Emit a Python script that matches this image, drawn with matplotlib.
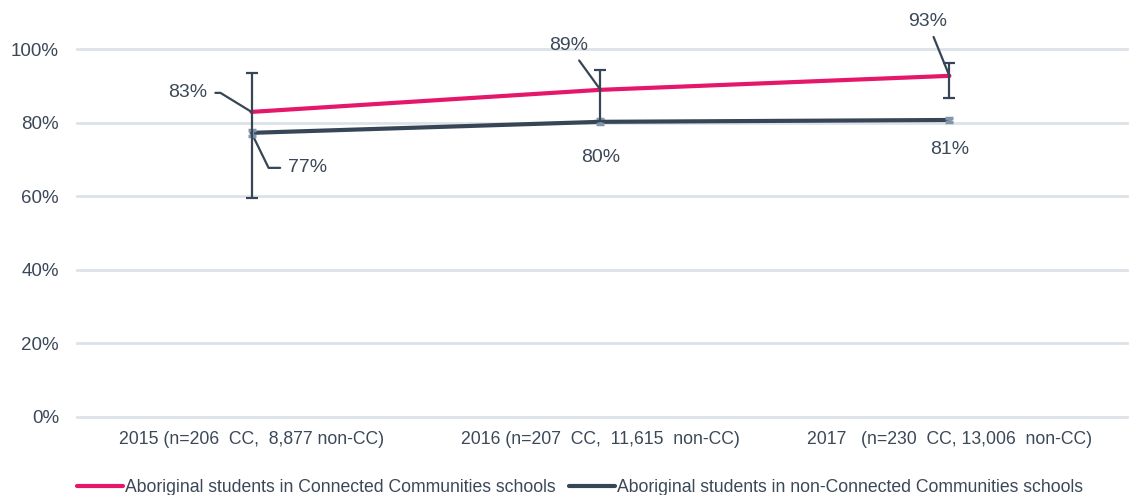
import matplotlib
matplotlib.use('Agg')
import matplotlib.pyplot as plt
import numpy as np

plt.rcParams['font.family'] = ['Liberation Sans', 'DejaVu Sans']

# ---- data ----
years = ['2015 (n=206  CC,  8,877 non-CC)',
         '2016 (n=207  CC,  11,615  non-CC)',
         '2017   (n=230  CC, 13,006  non-CC)']
cc = [82.9, 88.9, 92.7]
cc_lo = [59.5, 80.4, 86.7]
cc_hi = [93.5, 94.3, 96.2]
noncc = [77.2, 80.2, 80.7]
noncc_lo = [76.3, 79.5, 80.1]
noncc_hi = [78.1, 80.9, 81.3]
cc_labels = ['83%', '89%', '93%']
noncc_labels = ['77%', '80%', '81%']
yticks = [0, 20, 40, 60, 80, 100]

PINK = '#e5176a'
DARK = '#364656'
TXT = '#3b4858'
GRID = '#dde2e8'

x = np.arange(len(years))

fig = plt.figure(figsize=(11.33, 4.95), dpi=100)
ax = fig.add_axes([0.068, 0.158, 0.927, 0.743])

for y in yticks:
    ax.axhline(y, color=GRID, lw=2, zorder=0, clip_on=False)

ax.plot(x, noncc, color=DARK, lw=3, solid_capstyle='round', zorder=3,
        label='Aboriginal students in non-Connected Communities schools')
ax.plot(x, cc, color=PINK, lw=3, solid_capstyle='round', zorder=3,
        label='Aboriginal students in Connected Communities schools')

# error bars
ax.errorbar(x, noncc,
            yerr=[np.array(noncc) - np.array(noncc_lo), np.array(noncc_hi) - np.array(noncc)],
            fmt='none', ecolor='#8296ab', elinewidth=2.5, capsize=3, capthick=2.5, zorder=4)
ax.errorbar(x, cc,
            yerr=[np.array(cc) - np.array(cc_lo), np.array(cc_hi) - np.array(cc)],
            fmt='none', ecolor=DARK, elinewidth=1.6, capsize=4, capthick=1.6, zorder=5)

# labels with leader lines
def leader(conn=None, shrinkA=2):
    d = dict(arrowstyle='-', color=DARK, lw=1.6, shrinkA=shrinkA, shrinkB=0)
    if conn:
        d['connectionstyle'] = conn
    return d

FS = 14
ax.annotate(cc_labels[0], xy=(x[0], cc[0]), xytext=(-32, 13.7), textcoords='offset points',
            ha='right', va='center', fontsize=FS, color=TXT,
            arrowprops=leader('angle,angleA=0,angleB=-31.5,rad=0', 4))
ax.annotate(noncc_labels[0], xy=(x[0], noncc[0]), xytext=(26.6, -25.2), textcoords='offset points',
            ha='left', va='center', fontsize=FS, color=TXT,
            arrowprops=leader('angle,angleA=0,angleB=-64,rad=0', 4))
ax.annotate(cc_labels[1], xy=(x[1], cc[1]), xytext=(-23, 31.7), textcoords='offset points',
            ha='center', va='center', fontsize=FS, color=TXT,
            arrowprops=leader(shrinkA=3))
ax.annotate(noncc_labels[1], xy=(x[1], noncc[1]), xytext=(0, -26), textcoords='offset points',
            ha='center', va='center', fontsize=FS, color=TXT)
ax.annotate(cc_labels[2], xy=(x[2], cc[2]), xytext=(-15.8, 38.9), textcoords='offset points',
            ha='center', va='center', fontsize=FS, color=TXT,
            arrowprops=leader(shrinkA=3))
ax.annotate(noncc_labels[2], xy=(x[2], noncc[2]), xytext=(0, -21.6), textcoords='offset points',
            ha='center', va='center', fontsize=FS, color=TXT)

ax.set_xlim(-0.5, 2.51)
ax.set_ylim(0, 100)
ax.set_yticks(yticks)
ax.set_yticklabels([f'{v}%' for v in yticks])
ax.set_xticks(x)
ax.set_xticklabels(years)
ax.tick_params(length=0, colors=TXT)
ax.tick_params(axis='y', labelsize=13.5, pad=13)
ax.tick_params(axis='x', labelsize=12.7, pad=10)
for s in ax.spines.values():
    s.set_visible(False)

h, l = ax.get_legend_handles_labels()
leg = fig.legend(h[::-1], l[::-1], loc='lower left', bbox_to_anchor=(0.054, -0.035), ncol=2,
                 frameon=False, fontsize=12.7, handlelength=2.6, handletextpad=0.1,
                 columnspacing=0.8, labelcolor=TXT)

fig.savefig('out.png', dpi=100)
